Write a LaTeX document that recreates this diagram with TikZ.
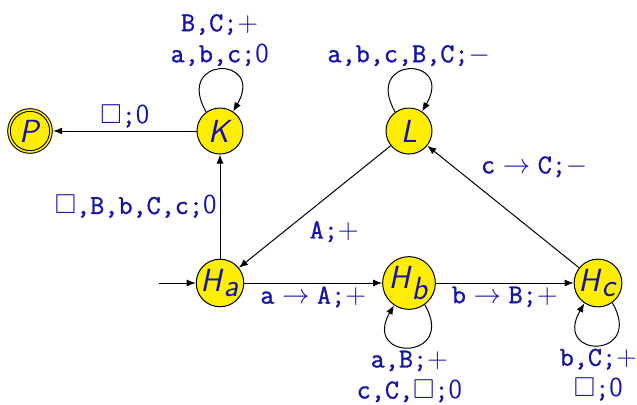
\RequirePackage{fix-cm}
\documentclass[tikz,border=0pt]{standalone}
\usepackage{fontspec}
\setmonofont[FakeBold=1.2]{Latin Modern Mono}
\usepackage{amssymb}
\usetikzlibrary{arrows.meta}
\definecolor{lblblue}{RGB}{20,20,170}
\definecolor{stfill}{RGB}{255,238,0}
\begin{document}
\begin{tikzpicture}[x=0.5pt,y=0.5pt,
  stt/.style={circle,draw,fill=stfill,line width=0.5pt,minimum size=23pt,inner sep=0pt,
    text=lblblue,font=\fontsize{16}{18}\selectfont},
  accst/.style={minimum size=21pt,double=stfill,double distance=0.8pt,outer sep=1.1pt},
  lbl/.style={text=lblblue,font=\fontsize{13.7}{15.5}\selectfont,inner sep=1.5pt,align=center},
  tr/.style={line width=0.5pt,-{Latex[length=4.5pt,width=3.5pt]}}]
\useasboundingbox (0,0) rectangle (637,404);
\node[stt,accst] (P) at (30,273) {\textsf{\textit{P}}};
\node[stt] (K) at (220,273) {\textsf{\textit{K}}};
\node[stt] (L) at (409,273) {\textsf{\textit{L}}};
\node[stt] (Ha) at (220,121) {$\textsf{\textit{H}}_{\textsf{\textit{a}}}$};
\node[stt] (Hb) at (409,121) {$\textsf{\textit{H}}_{\textsf{\textit{b}}}$};
\node[stt] (Hc) at (598,121) {$\textsf{\textit{H}}_{\textsf{\textit{c}}}$};
\coordinate (start) at (159,121);
\draw[tr] (start) -- (Ha);
\draw[tr] (K) -- node[lbl,above]{$\square$\texttt{;}\textsf{0}} (P);
\draw[tr] (Ha) -- node[lbl,left]{$\square$\texttt{,B,b,C,c;}\textsf{0}} (K);
\draw[tr] (L) -- node[lbl,midway,xshift=9.75pt,yshift=-12.5pt]{\texttt{A;}$+$} (Ha);
\draw[tr] (Ha) -- node[lbl,below]{\texttt{a}$\;\rightarrow\;$\texttt{A;}$+$} (Hb);
\draw[tr] (Hb) -- node[lbl,below]{\texttt{b}$\;\rightarrow\;$\texttt{B;}$+$} (Hc);
\draw[tr] (Hc) -- node[lbl,midway,xshift=15.5pt,yshift=20pt]{\texttt{c}$\;\rightarrow\;$\texttt{C;}$-$} (L);
\draw[tr] (K.126) .. controls +(120:65) and +(60:65) .. (K.56)
  node[lbl,pos=0.5,above]{\texttt{B,C;}$+$\\\texttt{a,b,c;}\textsf{0}};
\draw[tr] (L.126) .. controls +(120:65) and +(60:65) .. (L.56)
  node[lbl,pos=0.5,above]{\texttt{a,b,c,B,C;}$-$};
\draw[tr] (Hb.-54) .. controls +(-60:65) and +(-120:65) .. (Hb.-124)
  node[lbl,pos=0.5,below]{\texttt{a,B;}$+$\\\texttt{c,C,}$\square$\texttt{;}\textsf{0}};
\draw[tr] (Hc.-54) .. controls +(-60:65) and +(-120:65) .. (Hc.-124)
  node[lbl,pos=0.5,below]{\texttt{b,C;}$+$\\$\square$\texttt{;}\textsf{0}};
\end{tikzpicture}
\end{document}
